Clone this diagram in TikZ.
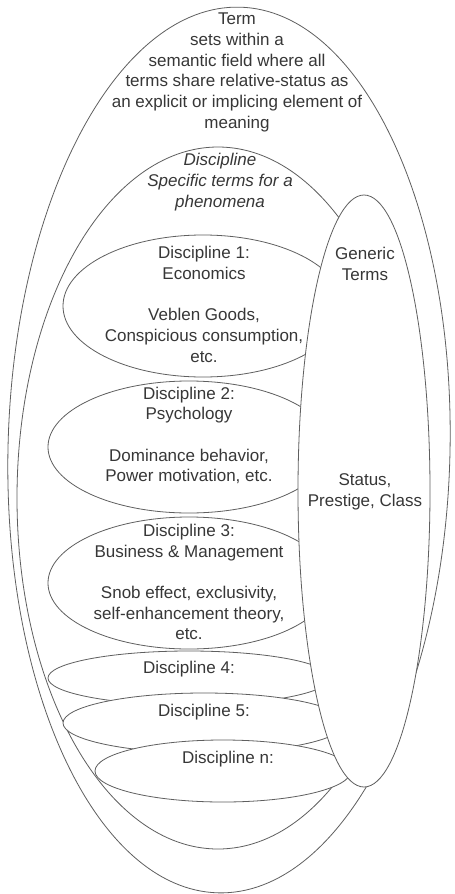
\documentclass[tikz,border=0pt]{standalone}
\usepackage{fontspec}
\setmainfont{Liberation Sans}
\definecolor{linecol}{RGB}{95,95,95}
\definecolor{textcol}{RGB}{55,55,55}
\begin{document}
\begin{tikzpicture}[x=1pt, y=-1pt,
	set/.style = {draw=linecol, line width=0.8pt, fill=white},
	txt/.style = {text=textcol, align=center, inner sep=0pt, font=\fontsize{17}{20.7}\selectfont}]
	\useasboundingbox (0,0) rectangle (455,894);
	% the sets, back to front
	\draw[set, rotate around={-1.4:(229,450)}] (229,450) ellipse [x radius=221, y radius=443];
	\draw[set] (218,498) ellipse [x radius=201, y radius=351];
	\draw[set] (203,306) ellipse [x radius=140, y radius=71];
	\draw[set] (189,447) ellipse [x radius=141, y radius=66];
	\draw[set] (189,583) ellipse [x radius=141, y radius=66];
	\draw[set] (189,678) ellipse [x radius=141, y radius=27];
	\draw[set] (204,723) ellipse [x radius=141, y radius=30];
	\draw[set] (223,771) ellipse [x radius=128, y radius=31];
	\draw[set] (364,491) ellipse [x radius=66, y radius=296];
	% labels
	\node[txt] (term) at (237,72.5) {Term\\sets within a\\semantic field where all\\terms share relative-status as\\an explicit or implicing element of\\meaning};
	\node[txt, font=\fontsize{17}{20.7}\selectfont\itshape] (spec) at (220,182) {Discipline\\Specific terms for a\\phenomena};
	\node[txt] (gen) at (365,264) {Generic\\Terms};
	\node[txt] (status) at (365,492) {Status,\\Prestige, Class};
	\node[txt] (d1) at (204,304.5) {Discipline 1:\\Economics\\[20.7pt]Veblen Goods,\\Conspicious consumption,\\etc.};
	\node[txt] (d2) at (189,435.5) {Discipline 2:\\Psychology\\[20.7pt]Dominance behavior,\\Power motivation, etc.};
	\node[txt] (d3) at (189,582) {Discipline 3:\\Business \& Management\\[20.7pt]Snob effect, exclusivity,\\self-enhancement theory,\\etc.};
	\node[txt] (d4) at (189,669) {Discipline 4:};
	\node[txt] (d5) at (204,712) {Discipline 5:};
	\node[txt] (dn) at (228,759) {Discipline n:};
\end{tikzpicture}
\end{document}
